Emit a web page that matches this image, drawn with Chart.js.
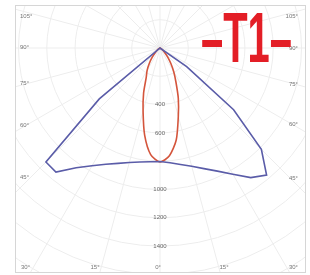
<!DOCTYPE html>
<html>
<head>
<meta charset="utf-8">
<script src="https://cdn.jsdelivr.net/npm/chart.js@4.4.1/dist/chart.umd.min.js"></script>
<style>
html, body { margin: 0; padding: 0; background: #fff; }
#wrap { position: relative; width: 310px; height: 275px; overflow: hidden; font-family: "Liberation Sans", Arial, sans-serif; }
#box { position: absolute; left: 15px; top: 5px; width: 289px; height: 266px; border: 1px solid #d6d6d6; overflow: hidden; }
#box canvas { position: absolute; left: -139px; top: -241px; }
.deg { position: absolute; font-size: 6px; line-height: 6px; color: #777; white-space: nowrap; }
.mid { transform: translateX(-50%); }
.rt { text-align: right; }
#t1 { position: absolute; left: 201px; top: 3px; font-size: 70px; line-height: 70px; font-weight: bold; color: #e31e26;
      transform: scaleX(0.57); transform-origin: 0 0; white-space: nowrap; }
</style>
</head>
<body>
<div id="wrap">
  <div id="box"><canvas id="polar" width="567" height="567"></canvas></div>
  <span class="deg" style="left:20px;top:13px">105°</span>
  <span class="deg" style="left:20px;top:44px">90°</span>
  <span class="deg" style="left:20px;top:80px">75°</span>
  <span class="deg" style="left:20px;top:122px">60°</span>
  <span class="deg" style="left:20px;top:174px">45°</span>
  <span class="deg" style="left:21px;top:264px">30°</span>
  <span class="deg mid" style="left:95px;top:264px">15°</span>
  <span class="deg mid" style="left:158px;top:264px">0°</span>
  <span class="deg mid" style="left:224px;top:264px">15°</span>
  <span class="deg rt" style="right:12px;top:264px">30°</span>
  <span class="deg rt" style="right:12px;top:13px">105°</span>
  <span class="deg rt" style="right:12px;top:45px">90°</span>
  <span class="deg rt" style="right:12px;top:81px">75°</span>
  <span class="deg rt" style="right:12px;top:121px">60°</span>
  <span class="deg rt" style="right:12px;top:175px">45°</span>
  <span id="t1">–T1–</span>
</div>
<script>
// intensity (cd/klm) read every 5 deg from nadir (0) to horizontal (90)
const blueLeft  = [802, 807, 818, 838, 868, 906, 961, 1033, 1144, 1140, 560, 0, 0, 0, 0, 0, 0, 0, 0];
const blueRight = [802, 814, 836, 865, 907, 960, 1030, 1118, 1172, 1013, 679, 230, 0, 0, 0, 0, 0, 0, 0];
const redLeft   = [806, 756, 625, 462, 339, 231, 182, 131, 85, 50, 28, 12, 0, 0, 0, 0, 0, 0, 0];
const redRight  = [806, 764, 660, 500, 378, 267, 194, 134, 88, 50, 28, 12, 0, 0, 0, 0, 0, 0, 0];
// nothing is emitted above the horizontal (95..265 deg)
const upper = new Array(35).fill(0);
const ringLabels = [400, 600, 1000, 1200, 1400];

const angles = [];
for (let a = 0; a < 360; a += 5) angles.push(a);

// radar index runs clockwise from nadir: left side first, right side last
function aroundCircle(left, right) {
    return left.concat(upper, right.slice(1).reverse());
}

const ringLabelPlugin = {
    id: 'ringLabels',
    beforeDatasetsDraw(chart) {
        const r = chart.scales.r;
        const ctx = chart.ctx;
        ctx.save();
        ctx.font = '6px "Liberation Sans", Arial, sans-serif';
        ctx.fillStyle = '#666';
        ctx.textAlign = 'center';
        ctx.textBaseline = 'middle';
        ringLabels.forEach(v => {
            ctx.fillText(String(v), r.xCenter, r.yCenter + r.getDistanceFromCenterForValue(v));
        });
        ctx.restore();
    }
};

new Chart(document.getElementById('polar'), {
    type: 'radar',
    data: {
        labels: angles,
        datasets: [
            {
                label: 'C0-180',
                data: aroundCircle(blueLeft, blueRight),
                borderColor: '#5a5ca8',
                borderWidth: 1.6,
                fill: false,
                pointRadius: 0,
                tension: 0
            },
            {
                label: 'C90-270',
                data: aroundCircle(redLeft, redRight),
                borderColor: '#d4553c',
                borderWidth: 1.6,
                fill: false,
                pointRadius: 0,
                tension: 0.25
            }
        ]
    },
    options: {
        responsive: false,
        animation: false,
        devicePixelRatio: 1,
        plugins: { legend: { display: false }, tooltip: { enabled: false } },
        scales: {
            r: {
                min: 0,
                max: 2000,
                startAngle: 180,
                ticks: { display: false, stepSize: 200 },
                pointLabels: { display: false },
                grid: { circular: true, color: '#ededed' },
                angleLines: {
                    color: '#ededed',
                    lineWidth: ctx => (ctx.index % 3 === 0 ? 1 : 0)
                }
            }
        }
    },
    plugins: [ringLabelPlugin]
});
</script>
</body>
</html>
